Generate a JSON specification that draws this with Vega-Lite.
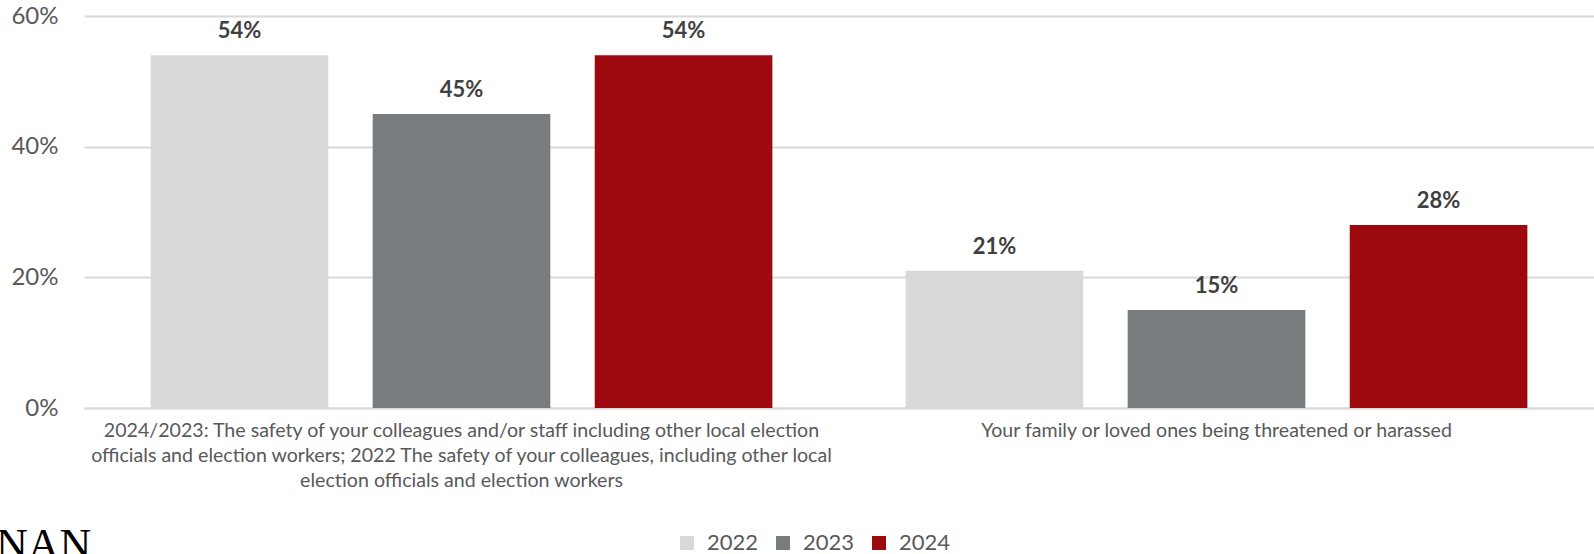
{
  "$schema": "https://vega.github.io/schema/vega-lite/v6.json",
  "width": 1510,
  "height": 392,
  "autosize": "none",
  "padding": {"left": 84, "top": 16, "right": 0, "bottom": 146},
  "background": "white",
  "title": {
    "text": "NAN",
    "orient": "top",
    "anchor": "start",
    "frame": "group",
    "font": "Liberation Serif",
    "fontSize": 44,
    "fontWeight": "normal",
    "color": "#000000",
    "baseline": "top",
    "dx": -88,
    "dy": 568
  },
  "data": {
    "values": [
      {"q": "2024/2023: The safety of your colleagues and/or staff including other local election|officials and election workers; 2022 The safety of your colleagues, including other local|election officials and election workers", "year": "2022", "value": 0.54},
      {"q": "2024/2023: The safety of your colleagues and/or staff including other local election|officials and election workers; 2022 The safety of your colleagues, including other local|election officials and election workers", "year": "2023", "value": 0.45},
      {"q": "2024/2023: The safety of your colleagues and/or staff including other local election|officials and election workers; 2022 The safety of your colleagues, including other local|election officials and election workers", "year": "2024", "value": 0.54},
      {"q": "Your family or loved ones being threatened or harassed", "year": "2022", "value": 0.21},
      {"q": "Your family or loved ones being threatened or harassed", "year": "2023", "value": 0.15},
      {"q": "Your family or loved ones being threatened or harassed", "year": "2024", "value": 0.28}
    ]
  },
  "encoding": {
    "x": {
      "field": "q",
      "type": "nominal",
      "sort": null,
      "scale": {"paddingInner": 0, "paddingOuter": 0},
      "axis": {
        "title": null,
        "labelAngle": 0,
        "labelExpr": "split(datum.label, '|')",
        "labelFont": "Lato",
        "labelFontSize": 19.6,
        "labelColor": "#595959",
        "labelLineHeight": 25,
        "labelPadding": 13,
        "labelLimit": 0,
        "ticks": false,
        "domain": true,
        "domainColor": "#d9d9d9",
        "domainWidth": 2,
        "labelBaseline": "top"
      }
    },
    "xOffset": {
      "field": "year",
      "type": "nominal",
      "scale": {"paddingInner": 0.2, "paddingOuter": 0.3}
    },
    "y": {
      "field": "value",
      "type": "quantitative",
      "scale": {"domain": [0, 0.6]},
      "axis": {
        "title": null,
        "values": [0, 0.2, 0.4, 0.6],
        "format": ".0%",
        "labelFont": "Lato",
        "labelFontSize": 24,
        "labelColor": "#595959",
        "labelPadding": 26,
        "ticks": false,
        "domain": false,
        "gridColor": "#d9d9d9",
        "gridWidth": 2
      }
    }
  },
  "layer": [
    {
      "mark": {"type": "bar"},
      "encoding": {
        "color": {
          "field": "year",
          "type": "nominal",
          "scale": {"domain": ["2022", "2023", "2024"], "range": ["#d9d9d9", "#787c7f", "#9c0a10"]},
          "legend": {
            "title": null,
            "orient": "none",
            "direction": "horizontal",
            "legendX": 592,
            "legendY": 516,
            "symbolType": "square",
            "symbolSize": 196,
            "symbolStrokeWidth": 0,
            "labelFont": "Lato",
            "labelFontSize": 22,
            "labelColor": "#595959",
            "labelOffset": 9,
            "columnPadding": 13
          }
        }
      }
    },
    {
      "mark": {"type": "text", "baseline": "bottom", "dy": -12, "font": "Lato", "fontSize": 22, "fontWeight": "bold", "color": "#404040"},
      "encoding": {
        "text": {"field": "value", "type": "quantitative", "format": ".0%"}
      }
    }
  ],
  "config": {
    "view": {"stroke": null}
  }
}
